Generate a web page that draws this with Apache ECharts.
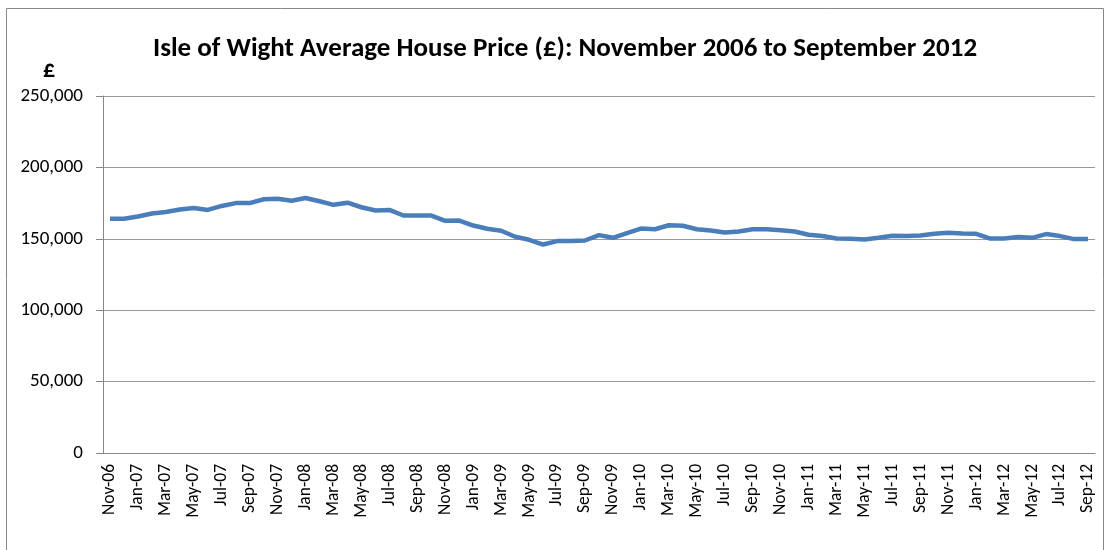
<!DOCTYPE html>
<html><head><meta charset="utf-8">
<script src="https://cdn.jsdelivr.net/npm/echarts@6/dist/echarts.min.js"></script>
<style>html,body{margin:0;padding:0;background:#fff;}#c{width:1110px;height:550px;}</style>
</head><body><div id="c"></div>
<script>
const months = ['Jan','Feb','Mar','Apr','May','Jun','Jul','Aug','Sep','Oct','Nov','Dec'];
const categories = (function(){const a=[];let m=10,y=6;for(let i=0;i<71;i++){a.push(months[m]+'-'+String(y).padStart(2,'0'));m++;if(m>11){m=0;y++;}}return a;})();
const prices = [
164000,164000,165600,167700,168800,170500,171600,170200,173000,175000,175000,177700,178100,176700,178600,176300,
173800,175300,172100,169800,170200,166300,166300,166300,162600,162800,159300,157000,155600,151400,149300,146000,148400,
148500,148800,152600,150700,154000,157200,156700,159500,159100,156700,155800,154400,155100,156700,156700,156000,155100,152800,151900,
150200,150000,149500,150700,152100,151900,152300,153500,154200,153700,153500,150200,150200,151200,150700,153300,151900,149800,149800
];
const yTicks = [0,50000,100000,150000,200000,250000];
const FONT = 'Carlito, Lato, sans-serif';
const chart = echarts.init(document.getElementById('c'));
chart.setOption({
  animation:false,
  graphic:[
    {type:'rect',shape:{x:6.5,y:8.5,width:1097,height:560},style:{fill:'none',stroke:'#888',lineWidth:1}}
  ],
  title:[
    {text:'Isle of Wight Average House Price (£): November 2006 to September 2012',left:153,top:36,padding:0,
      textStyle:{fontFamily:FONT,fontWeight:'bold',fontSize:27,color:'#000'}},
    {text:'£',left:43,top:59,padding:0,textStyle:{fontFamily:FONT,fontWeight:'bold',fontSize:24,color:'#000'}}
  ],
  grid:{left:103,right:15,top:96,bottom:97,containLabel:false},
  xAxis:{type:'category',data:categories,boundaryGap:true,
    axisLine:{lineStyle:{color:'#888'}},
    axisTick:{interval:1,length:5,lineStyle:{color:'#888'}},
    axisLabel:{interval:1,rotate:90,fontFamily:FONT,fontSize:17.5,color:'#000',margin:11}},
  yAxis:{type:'value',min:0,max:250000,interval:50000,
    axisLine:{show:true,lineStyle:{color:'#888'}},
    axisTick:{show:true,length:7,lineStyle:{color:'#888'}},
    splitLine:{lineStyle:{color:'#999'}},
    axisLabel:{fontFamily:FONT,fontSize:19,color:'#000',margin:20,
      formatter:v=>v.toLocaleString('en-GB')}},
  series:[{type:'line',data:prices,symbol:'none',lineStyle:{color:'#4a7ebb',width:4.5},itemStyle:{color:'#4a7ebb'}}]
});
</script></body></html>
